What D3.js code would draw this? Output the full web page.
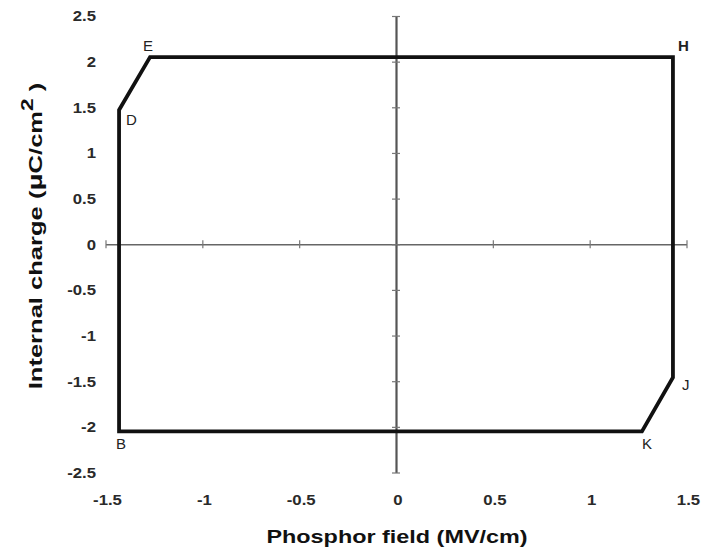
<!DOCTYPE html>
<html>
<head>
<meta charset="utf-8">
<script src="https://cdn.jsdelivr.net/npm/d3@7"></script>
<style>
  html, body { margin: 0; padding: 0; background: #fff; }
  svg { display: block; }
</style>
</head>
<body>
<svg id="chart" width="704" height="554"></svg>
<script>
// Data
const pointLabels = ["D", "E", "H", "J", "K", "B"];
const fieldValues = [-1.43, -1.27, 1.43, 1.43, 1.27, -1.43];
const chargeValues = [1.47, 2.05, 2.05, -1.46, -2.05, -2.05];
const xTicks = [-1.5, -1, -0.5, 0, 0.5, 1, 1.5];
const yTicks = [-2.5, -2, -1.5, -1, -0.5, 0, 0.5, 1, 1.5, 2, 2.5];
const xTitle = "Phosphor field (MV/cm)";

const svg = d3.select("#chart");
const x = d3.scaleLinear().domain([-1.5, 1.5]).range([105.5, 686.5]);
const y = d3.scaleLinear().domain([-2.5, 2.5]).range([472.5, 16]);

const font = "Liberation Sans, Arial, sans-serif";

// Axes crossing at origin
const xAxis = d3.axisBottom(x).tickValues(xTicks).tickSize(0).tickFormat("");
const yAxis = d3.axisLeft(y).tickValues(yTicks).tickSize(0).tickFormat("");

const gx = svg.append("g").attr("transform", `translate(0,${y(0)})`).call(xAxis);
gx.select(".domain").attr("stroke", "#666").attr("stroke-width", 1.6);
gx.selectAll(".tick").append("line").attr("y1", -4).attr("y2", 4)
  .attr("stroke", "#777").attr("stroke-width", 1.2);

const gy = svg.append("g").attr("transform", `translate(${x(0)},0)`).call(yAxis);
gy.select(".domain").attr("stroke", "#555").attr("stroke-width", 2.2);
gy.selectAll(".tick").append("line").attr("x1", -4).attr("x2", 4)
  .attr("stroke", "#777").attr("stroke-width", 1.2);

const fmt = d => d3.format("")(d).replace("\u2212", "-");

// Tick labels
svg.append("g").selectAll("text").data(yTicks).join("text")
  .attr("transform", d => `translate(96,${y(d)}) scale(1.08,1)`)
  .attr("dy", "0.35em")
  .attr("text-anchor", "end")
  .attr("font-family", font).attr("font-weight", "bold").attr("font-size", 15.5)
  .attr("fill", "#2a2a2a")
  .text(fmt);

svg.append("g").selectAll("text").data(xTicks).join("text")
  .attr("transform", d => `translate(${x(d) + 2},500) scale(1.08,1)`)
  .attr("dy", "0.35em")
  .attr("text-anchor", "middle")
  .attr("font-family", font).attr("font-weight", "bold").attr("font-size", 15.5)
  .attr("fill", "#2a2a2a")
  .text(fmt);

// Loop
const pts = fieldValues.map((v, i) => [v, chargeValues[i]]);
const line = d3.line().x(d => x(d[0])).y(d => y(d[1])).curve(d3.curveLinearClosed);
svg.append("path").datum(pts)
  .attr("d", line)
  .attr("fill", "none").attr("stroke", "#111").attr("stroke-width", 3.8)
  .attr("stroke-linejoin", "miter");

// Point labels
const labelOffsets = {
  D: [7, 15, "start", "normal"],
  E: [-7, -6, "start", "normal"],
  H: [5, -6, "start", "bold"],
  J: [9, 12, "start", "normal"],
  K: [0, 18, "start", "normal"],
  B: [-3, 18, "start", "normal"]
};
svg.append("g").selectAll("text").data(pointLabels).join("text")
  .attr("x", (d, i) => x(fieldValues[i]) + labelOffsets[d][0])
  .attr("y", (d, i) => y(chargeValues[i]) + labelOffsets[d][1])
  .attr("text-anchor", d => labelOffsets[d][2])
  .attr("font-family", font).attr("font-size", 15)
  .attr("font-weight", d => labelOffsets[d][3])
  .attr("fill", "#222")
  .text(d => d);

// Axis titles
svg.append("text")
  .attr("transform", "translate(397,543) scale(1.3,1)")
  .attr("text-anchor", "middle")
  .attr("font-family", font).attr("font-weight", "bold").attr("font-size", 18)
  .attr("fill", "#111")
  .text(xTitle);

const yt = svg.append("text")
  .attr("transform", "translate(42,236) rotate(-90) scale(1.42,1)")
  .attr("text-anchor", "middle")
  .attr("font-family", font).attr("font-weight", "bold").attr("font-size", 18)
  .attr("fill", "#111");
yt.append("tspan").text("Internal charge (");
yt.append("tspan").attr("font-size", 21).text("\u00B5");
yt.append("tspan").text("C/cm");
yt.append("tspan").attr("dy", -9).attr("font-size", 16).text("2");
yt.append("tspan").attr("dy", 9).text(" )");
</script>
</body>
</html>
